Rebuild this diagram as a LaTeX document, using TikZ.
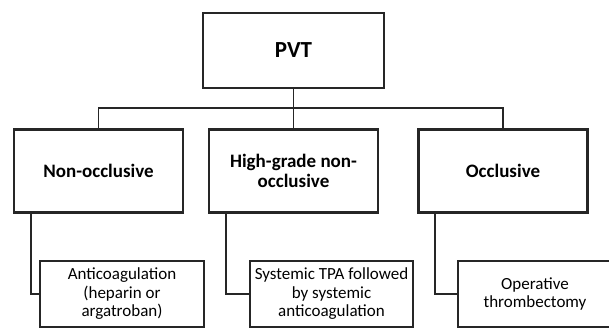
\documentclass[tikz,border=0pt]{standalone}
\usepackage{fontspec}
\setmainfont{Carlito}
\usetikzlibrary{shadows}
\begin{document}
\begin{tikzpicture}[x=1pt,y=1pt,
  box/.style={draw=black!85, line width=2.8pt, fill=white, align=center,
    inner sep=2pt, drop shadow={shadow xshift=1.2pt, shadow yshift=-1.2pt, opacity=0.3}},
  topbox/.style={box, minimum width=181pt, minimum height=75pt,
    font=\fontsize{23}{26}\selectfont\bfseries},
  typebox/.style={box, minimum width=169pt, minimum height=83pt,
    font=\fontsize{19}{20}\selectfont\bfseries},
  treatbox/.style={box, minimum width=164pt, minimum height=66pt,
    font=\fontsize{17}{18.5}\selectfont},
  link/.style={draw=black!85, line width=1.8pt}]
  \useasboundingbox (0,0) rectangle (609,-327);
  % top
  \node[topbox] (pvt) at (293.5,-50.5) {PVT};
  % types of thrombosis
  \node[typebox] (nonocc) at (98.5,-171) {Non-occlusive};
  \node[typebox] (highgrade) at (293.5,-171) {High-grade non-\\occlusive};
  \node[typebox] (occl) at (503,-171) {Occlusive};
  \coordinate (bus) at (293.5,-108);
  \draw[link] (nonocc.north) |- (bus) -| (occl.north);
  \draw[link] (pvt.south) -- (highgrade.north);
  % treatments
  \node[treatbox] (anticoag) at (122,-294) {Anticoagulation\\(heparin or\\argatroban)};
  \node[treatbox, minimum width=163pt] (systpa) at (331.5,-294) {Systemic TPA followed\\by systemic\\anticoagulation};
  \node[treatbox, minimum width=154pt] (thromb) at (535,-294) {Operative\\thrombectomy};
  \draw[link] ([xshift=18pt]nonocc.south west) |- (anticoag.west);
  \draw[link] ([xshift=18pt]highgrade.south west) |- (systpa.west);
  \draw[link] ([xshift=18pt]occl.south west) |- (thromb.west);
\end{tikzpicture}
\end{document}
